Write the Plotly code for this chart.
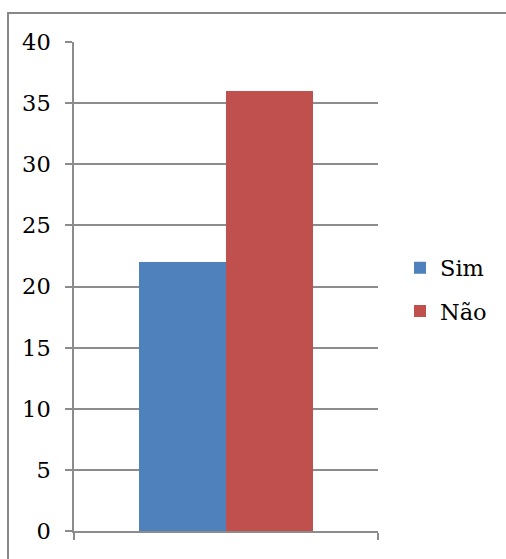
import plotly.graph_objects as go

# Survey answers: one group, two response counts
categories = ["Respostas"]
series_names = ["Sim", "Não"]
series_values = [[22], [36]]
series_colors = ["#4F81BD", "#C0504D"]
y_ticks = [0, 5, 10, 15, 20, 25, 30, 35, 40]

W, H = 506, 559
L, R, T, B = 74, 128, 42, 28
plot_w = W - L - R
plot_h = H - T - B

FONT = "DejaVu Serif"
FS = 22.5
GRID = "#8c8c8c"

fig = go.Figure()
for i, (name, vals, col) in enumerate(zip(series_names, series_values, series_colors)):
    fig.add_trace(go.Bar(
        x=categories, y=vals, name=name,
        marker=dict(color=col, line=dict(width=0)),
        legendgroup=f"g{i}",
    ))

# outer chart frame (extends past the right and bottom edges)
fig.add_shape(
    type="rect", xref="paper", yref="paper",
    x0=(8 - L) / plot_w, x1=(W + 6 - L) / plot_w,
    y0=-(H + 6 - (H - B)) / plot_h, y1=1 + (T - 13) / plot_h,
    line=dict(color="#888888", width=2), fillcolor="rgba(0,0,0,0)",
    layer="below",
)

fig.update_layout(
    width=W, height=H,
    margin=dict(l=L, r=R, t=T, b=B, pad=0, autoexpand=False),
    paper_bgcolor="white", plot_bgcolor="white",
    barmode="group", bargap=130 / 304, bargroupgap=0,
    font=dict(family=FONT, size=FS, color="black"),
    legend=dict(
        xref="container", yref="container",
        x=400 / W, xanchor="left",
        y=1 - 289.5 / H, yanchor="middle",
        traceorder="grouped", tracegroupgap=11,
        itemwidth=30, bgcolor="rgba(0,0,0,0)",
        font=dict(family=FONT, size=FS, color="black"),
    ),
    showlegend=True,
)

fig.update_xaxes(
    range=[-0.5, 0.5], showticklabels=False,
    ticks="outside", tickson="boundaries", ticklen=7, tickwidth=1.5, tickcolor=GRID,
    showline=True, linecolor=GRID, linewidth=1.5,
    showgrid=False, zeroline=False,
)
fig.update_yaxes(
    range=[0, 40], tickvals=y_ticks, ticktext=[str(v) for v in y_ticks],
    ticks="outside", ticklen=7, tickwidth=1.5, tickcolor=GRID,
    showline=True, linecolor=GRID, linewidth=1.5,
    showgrid=True, gridcolor=GRID, gridwidth=1.5,
    zeroline=False, ticklabelstandoff=10,
    tickfont=dict(family=FONT, size=FS, color="black"),
)

fig.write_html("out.html")
